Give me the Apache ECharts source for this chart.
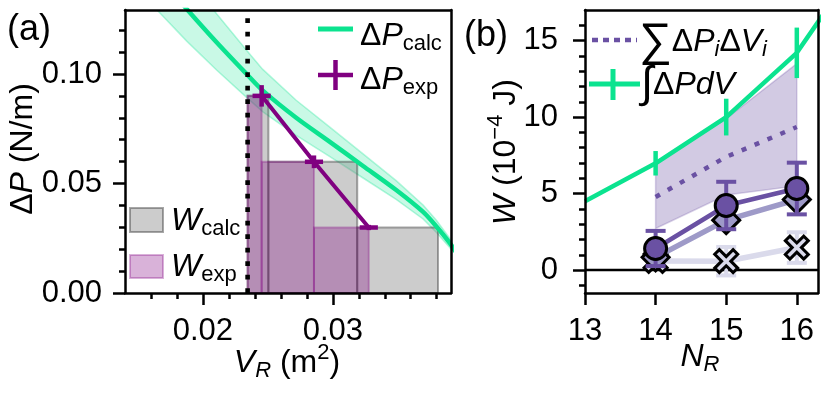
<!DOCTYPE html>
<html><head><meta charset="utf-8">
<script src="https://cdn.jsdelivr.net/npm/echarts@6/dist/echarts.min.js"></script>
<style>html,body{margin:0;padding:0;background:#fff}#c{width:829px;height:394px}</style>
</head><body><div id="c"></div>
<script>
// ---------- panel (a) data ----------
const calcV      = [0.0165, 0.01875, 0.02105, 0.02336, 0.02459, 0.02718, 0.02977, 0.03233, 0.03488, 0.03695, 0.03796, 0.0390, 0.0395];
const calcP      = [0.1450, 0.1297, 0.1145, 0.1000, 0.0925, 0.0800, 0.0690, 0.0580, 0.0470, 0.0370, 0.0305, 0.0229, 0.0185];
const calcPUpper = [0.1610, 0.1450, 0.1275, 0.1108, 0.1022, 0.0880, 0.0757, 0.0635, 0.0513, 0.0402, 0.0333, 0.0250, 0.0203];
const calcPLower = [0.1290, 0.1150, 0.1018, 0.0893, 0.0828, 0.0720, 0.0623, 0.0525, 0.0427, 0.0338, 0.0277, 0.0208, 0.0167];
const startV     = 0.02344;
const expV       = [0.02452, 0.02855, 0.03277];
const expP       = [0.0900, 0.0599, 0.0299];
const expVErr    = [0.0007, 0.0007, 0.0007];
const expPErr    = [0.0049, 0.0029, 0.0012];
const calcRectV  = [0.02504, 0.03188, 0.03810];
const aXTicks = [0.02, 0.03];
const aXMinor = [0.016, 0.018, 0.022, 0.024, 0.026, 0.028, 0.032, 0.034, 0.036, 0.038];
const aYTicks = [0, 0.05, 0.10];
const aYMinor = [0.01, 0.02, 0.03, 0.04, 0.06, 0.07, 0.08, 0.09, 0.11, 0.12];
// ---------- panel (b) data ----------
const bN          = [14, 15, 16];
const integralN   = [13, 14, 15, 16, 17];
const integralW   = [4.5, 6.98, 10.0, 14.2, 20.9];
const integralErr = [0.8, 1.2, 1.65];
const sumW        = [4.78, 7.4, 9.35];
const rangeUpper  = [6.98, 9.9, 13.5];
const rangeLower  = [2.72, 4.9, 5.5];
const circleW     = [1.41, 4.22, 5.33];
const circleErr   = [1.15, 1.55, 1.69];
const diamondW    = [0.83, 3.26, 4.61];
const crossW      = [0.6, 0.58, 1.47];
const crossErr    = [0, 0.93, 1.0];
const bXTicks = [13, 14, 15, 16];
const bYTicks = [0, 5, 10, 15];
const bYMinor = [-1, 1, 2, 3, 4, 6, 7, 8, 9, 11, 12, 13, 14, 16];

const FONT = 'Liberation Sans';
const GREEN = '#0be38f', PURPLE = '#800080';
const PD = '#6a51a3', PM = '#9e9ac8', PL = '#dadaeb';
const FS = 31;   // tick labels
const FL = 32;   // axis names / legend

const chart = echarts.init(document.getElementById('c'), null, {renderer: 'canvas'});

function lab(extra) {
  return Object.assign({fontSize: FS, fontFamily: FONT, color: '#000'}, extra);
}
const LW = 2.5;
function mainAxis(gi, pos, min, max, ticks, fmt, margin) {
  return {gridIndex: gi, type: 'value', position: pos, min: min, max: max, z: 10,
    axisLine: {show: true, onZero: false, lineStyle: {color: '#000', width: LW}},
    axisTick: {show: true, customValues: ticks, length: 12, lineStyle: {color: '#000', width: LW}},
    axisLabel: lab({customValues: ticks, formatter: fmt, margin: margin}),
    splitLine: {show: false}};
}
function minorAxis(gi, pos, min, max, ticks) {
  return {gridIndex: gi, type: 'value', position: pos, min: min, max: max, z: 10,
    axisLine: {show: false, onZero: false},
    axisTick: {show: true, customValues: ticks, length: 6, lineStyle: {color: '#000', width: LW}},
    axisLabel: {show: false}, splitLine: {show: false}};
}
function frameAxis(gi, pos, min, max) {
  return {gridIndex: gi, type: 'value', position: pos, min: min, max: max, z: 10,
    axisLine: {show: true, onZero: false, lineStyle: {color: '#000', width: LW}},
    axisTick: {show: false}, axisLabel: {show: false}, splitLine: {show: false}};
}
const AX = [0.014, 0.0391], AY = [0, 0.1292];
const BX = [13, 16.3], BY = [-1.5, 17];
const f2 = v => v.toFixed(2);
const f0 = v => String(Math.round(v));

function rectSeries(data, fill, stroke, z) {
  return {type: 'custom', xAxisIndex: 0, yAxisIndex: 0, z: z, clip: true, silent: true,
    encode: {x: [0, 1], y: 2}, data: data,
    renderItem: (p, api) => {
      const a = api.coord([api.value(0), api.value(2)]);
      const b = api.coord([api.value(1), 0]);
      return {type: 'rect', shape: {x: a[0], y: a[1], width: b[0] - a[0], height: b[1] - a[1]},
        style: {fill: fill, stroke: stroke, lineWidth: 2}};
    }};
}
function errSeries(xi, yi, xs, ys, errs, color, cap, width, z) {
  return {type: 'custom', xAxisIndex: xi, yAxisIndex: yi, z: z, clip: true, silent: true,
    encode: {x: 0, y: 1},
    data: xs.map((x, i) => [x, ys[i], errs[i]]).filter(d => d[2] > 0),
    renderItem: (p, api) => {
      const x = api.value(0), y = api.value(1), e = api.value(2);
      const t = api.coord([x, y + e]), b = api.coord([x, y - e]);
      const ch = [{type: 'line', shape: {x1: t[0], y1: t[1], x2: b[0], y2: b[1]}, style: {stroke: color, lineWidth: width}}];
      if (cap > 0) {
        ch.push({type: 'line', shape: {x1: t[0] - cap / 2, y1: t[1], x2: t[0] + cap / 2, y2: t[1]}, style: {stroke: color, lineWidth: width}});
        ch.push({type: 'line', shape: {x1: b[0] - cap / 2, y1: b[1], x2: b[0] + cap / 2, y2: b[1]}, style: {stroke: color, lineWidth: width}});
      }
      return {type: 'group', children: ch};
    }};
}
function bandSeries(xi, yi, xs, up, lo, fill, stroke, z) {
  return {type: 'custom', xAxisIndex: xi, yAxisIndex: yi, z: z, clip: true, silent: true,
    encode: {x: 0, y: 1}, data: [[xs[0], up[0]]],
    renderItem: (p, api) => {
      const pts = xs.map((x, i) => api.coord([x, up[i]]));
      for (let i = xs.length - 1; i >= 0; i--) pts.push(api.coord([xs[i], lo[i]]));
      return {type: 'polygon', shape: {points: pts}, style: {fill: fill, stroke: stroke, lineWidth: 1.5}};
    }};
}

const grayRects = [[startV, calcRectV[0], expP[0]], [calcRectV[0], calcRectV[1], expP[1]], [calcRectV[1], calcRectV[2], expP[2]]];
const purpleRects = [[startV, expV[0], expP[0]], [expV[0], expV[1], expP[1]], [expV[1], expV[2], expP[2]]];
const X_PATH = 'path://M20 0L50 30L80 0L100 20L70 50L100 80L80 100L50 70L20 100L0 80L30 50L0 20Z';

// rich text styles
const R = {
  n:  {fontSize: FL, fontFamily: FONT, fill: '#000'},
  i:  {fontSize: FL, fontFamily: FONT, fontStyle: 'italic', fill: '#000'},
  s:  {fontSize: 22, fontFamily: FONT, fill: '#000', padding: [16, 0, 0, 0]},
  si: {fontSize: 22, fontFamily: FONT, fontStyle: 'italic', fill: '#000', padding: [16, 0, 0, 0]},
  sup:{fontSize: 22, fontFamily: FONT, fill: '#000', padding: [0, 0, 20, 0]},
  sum:{fontSize: 46, fontFamily: FONT, fill: '#000'},
  int:{fontSize: 44, fontFamily: FONT, fill: '#000'}
};
function txt(x, y, text, opts) {
  return Object.assign({type: 'text', x: x, y: y, z: 100,
    style: {text: text, rich: R, align: 'left', verticalAlign: 'middle', fontSize: FL, fontFamily: FONT, fill: '#000'}}, opts || {});
}
function ctxt(x, y, text, rot) {
  const o = txt(x, y, text);
  o.style.align = 'center';
  if (rot) o.rotation = rot;
  return o;
}
function gline(x1, y1, x2, y2, color, w, dash) {
  return {type: 'line', z: 100, shape: {x1: x1, y1: y1, x2: x2, y2: y2},
    style: {stroke: color, lineWidth: w, lineDash: dash || null, lineCap: 'butt'}};
}

const option = {
  animation: false,
  backgroundColor: '#fff',
  grid: [
    {left: 125, top: 10, width: 326, height: 283, show: false},
    {left: 585, top: 10, width: 233, height: 283, show: false}
  ],
  xAxis: [
    mainAxis(0, 'bottom', AX[0], AX[1], aXTicks, f2, 23),
    minorAxis(0, 'bottom', AX[0], AX[1], aXMinor),
    frameAxis(0, 'top', AX[0], AX[1]),
    mainAxis(1, 'bottom', BX[0], BX[1], bXTicks, f0, 23),
    frameAxis(1, 'top', BX[0], BX[1])
  ],
  yAxis: [
    mainAxis(0, 'left', AY[0], AY[1], aYTicks, f2, 23),
    minorAxis(0, 'left', AY[0], AY[1], aYMinor),
    frameAxis(0, 'right', AY[0], AY[1]),
    mainAxis(1, 'left', BY[0], BY[1], bYTicks, f0, 27),
    minorAxis(1, 'left', BY[0], BY[1], bYMinor),
    frameAxis(1, 'right', BY[0], BY[1])
  ],
  series: [
    // ---- (a)
    bandSeries(0, 0, calcV, calcPUpper, calcPLower, 'rgba(11,227,143,0.22)', 'rgba(11,227,143,0.3)', 1),
    rectSeries(grayRects, 'rgba(128,128,128,0.4)', 'rgba(60,60,60,0.45)', 2),
    rectSeries(purpleRects, 'rgba(128,0,128,0.3)', 'rgba(128,0,128,0.3)', 2),
    {type: 'line', xAxisIndex: 0, yAxisIndex: 0, z: 3, silent: true, showSymbol: false, smooth: 0.3,
      data: calcV.map((v, i) => [v, calcP[i]]), lineStyle: {color: GREEN, width: 4.5}},
    {type: 'line', xAxisIndex: 0, yAxisIndex: 0, z: 6, silent: true, showSymbol: false,
      data: [[startV, AY[0]], [startV, AY[1]]], lineStyle: {color: '#000', width: 4.6, type: [4.7, 8.8], cap: 'butt'}},
    {type: 'line', xAxisIndex: 0, yAxisIndex: 0, z: 7, silent: true, showSymbol: false,
      data: expV.map((v, i) => [v, expP[i]]), lineStyle: {color: PURPLE, width: 4}},
    {type: 'custom', xAxisIndex: 0, yAxisIndex: 0, z: 7, clip: true, silent: true, encode: {x: 0, y: 1},
      data: expV.map((v, i) => [v, expP[i], expVErr[i], expPErr[i]]),
      renderItem: (p, api) => {
        const x = api.value(0), y = api.value(1), ex = api.value(2), ey = api.value(3);
        const l = api.coord([x - ex, y]), r = api.coord([x + ex, y]);
        const t = api.coord([x, y + ey]), b = api.coord([x, y - ey]);
        return {type: 'group', children: [
          {type: 'line', shape: {x1: l[0], y1: l[1], x2: r[0], y2: r[1]}, style: {stroke: PURPLE, lineWidth: 4.5}},
          {type: 'line', shape: {x1: t[0], y1: t[1], x2: b[0], y2: b[1]}, style: {stroke: PURPLE, lineWidth: 4.5}}
        ]};
      }},
    // ---- (b)
    bandSeries(3, 3, bN, rangeUpper, rangeLower, 'rgba(106,81,163,0.3)', 'rgba(106,81,163,0.25)', 1),
    {type: 'line', xAxisIndex: 3, yAxisIndex: 3, z: 2, silent: true, showSymbol: false,
      data: [[BX[0], 0], [BX[1], 0]], lineStyle: {color: '#000', width: 2.5}},
    {type: 'line', xAxisIndex: 3, yAxisIndex: 3, z: 2, silent: true, showSymbol: false,
      data: bN.map((n, i) => [n, sumW[i]]), lineStyle: {color: PD, width: 4.5, type: [5, 9], cap: 'butt'}},
    errSeries(3, 3, bN, crossW, crossErr, PL, 20, 4, 2.5),
    {type: 'line', xAxisIndex: 3, yAxisIndex: 3, z: 3, silent: true, showAllSymbol: true,
      symbol: X_PATH, symbolSize: 23, data: bN.map((n, i) => [n, crossW[i]]),
      lineStyle: {color: PL, width: 5.5}, itemStyle: {color: PL, borderColor: '#000', borderWidth: 3}},
    {type: 'line', xAxisIndex: 3, yAxisIndex: 3, z: 4, silent: true, showAllSymbol: true,
      symbol: 'diamond', symbolSize: 27, data: bN.map((n, i) => [n, diamondW[i]]),
      lineStyle: {color: PM, width: 5.5}, itemStyle: {color: PM, borderColor: '#000', borderWidth: 3}},
    errSeries(3, 3, bN, circleW, circleErr, PD, 20, 4, 4.5),
    {type: 'line', xAxisIndex: 3, yAxisIndex: 3, z: 5, silent: true, showAllSymbol: true,
      symbol: 'circle', symbolSize: 22, data: bN.map((n, i) => [n, circleW[i]]),
      lineStyle: {color: PD, width: 4.5}, itemStyle: {color: PD, borderColor: '#000', borderWidth: 3}},
    {type: 'line', xAxisIndex: 3, yAxisIndex: 3, z: 6, silent: true, showSymbol: false,
      data: integralN.map((n, i) => [n, integralW[i]]), lineStyle: {color: GREEN, width: 4.5}},
    errSeries(3, 3, bN, bN.map(n => integralW[integralN.indexOf(n)]), integralErr, GREEN, 0, 4.5, 6)
  ],
  graphic: [
    // panel labels
    txt(7, 30, '(a)', {style: {text: '(a)', fontSize: 36, fontFamily: FONT, fill: '#000', verticalAlign: 'middle'}}),
    txt(464, 36, '(b)', {style: {text: '(b)', fontSize: 36, fontFamily: FONT, fill: '#000', verticalAlign: 'middle'}}),
    // axis names
    ctxt(23, 149, '{n|Δ}{i|P}{n| (N/m)}', Math.PI / 2),
    ctxt(287, 363, '{i|V}{si|R}{n| (m}{sup|2}{n|)}'),
    ctxt(506, 152, '{i|W}{n| (10}{sup|−4}{n| J)}', Math.PI / 2),
    ctxt(700, 357, '{i|N}{si|R}'),
    // legend (a)
    gline(318, 29, 353, 29, GREEN, 5),
    txt(360, 36, '{n|Δ}{i|P}{s|calc}'),
    gline(318, 75, 353, 75, PURPLE, 4.5),
    gline(335.5, 60, 335.5, 90, PURPLE, 4.5),
    txt(360, 80, '{n|Δ}{i|P}{s|exp}'),
    {type: 'rect', z: 100, shape: {x: 130, y: 208, width: 33, height: 24}, style: {fill: 'rgba(128,128,128,0.4)', stroke: 'rgba(60,60,60,0.45)', lineWidth: 2}},
    txt(171, 221, '{i|W}{s|calc}'),
    {type: 'rect', z: 100, shape: {x: 130, y: 255, width: 33, height: 23}, style: {fill: 'rgba(128,0,128,0.3)', stroke: 'rgba(128,0,128,0.3)', lineWidth: 2}},
    txt(171, 267, '{i|W}{s|exp}'),
    // legend (b)
    gline(592, 40, 637, 40, PD, 4.5, [6, 5]),
    txt(639, 42, '{sum|∑}{n|Δ}{i|P}{si|i}{n|Δ}{i|V}{si|i}'),
    gline(589, 84, 640, 84, GREEN, 5),
    gline(613, 69, 613, 100, GREEN, 5),
    txt(641, 85, '{int|∫}{n|Δ}{i|PdV}')
  ]
};
chart.setOption(option);
</script>
</body></html>
